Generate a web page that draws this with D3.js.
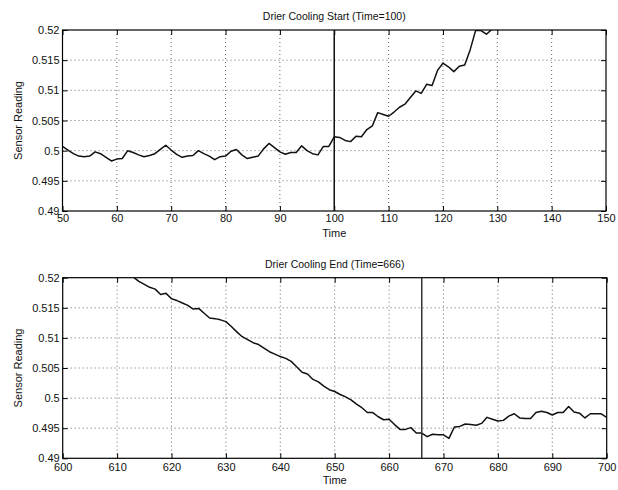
<!DOCTYPE html>
<html>
<head>
<meta charset="utf-8">
<script src="https://cdn.jsdelivr.net/npm/d3@7"></script>
<style>
  html, body { margin: 0; padding: 0; background: #fff; }
  svg { display: block; }
  text { font-family: "Liberation Sans", Arial, sans-serif; fill: #111; }
</style>
</head>
<body>
<svg id="chart" width="618" height="490"></svg>
<script>
// ---- data ----
const startTimes = d3.range(50, 131);
const startValues = [
  0.5007, 0.5001, 0.4995, 0.4991, 0.4990, 0.4991, 0.4998, 0.4995, 0.4989, 0.4983,
  0.4986, 0.4987, 0.5000, 0.4997, 0.4993, 0.4990, 0.4992, 0.4995, 0.5002, 0.5009,
  0.5001, 0.4994, 0.4989, 0.4991, 0.4992, 0.5000, 0.4995, 0.4991, 0.4985, 0.4990,
  0.4991, 0.4999, 0.5002, 0.4993, 0.4987, 0.4989, 0.4991, 0.5003, 0.5012, 0.5005,
  0.4998, 0.4994, 0.4997, 0.4997, 0.5008, 0.5000, 0.4995, 0.4993, 0.5007, 0.5007,
  0.5023, 0.5022, 0.5017, 0.5015, 0.5024, 0.5023, 0.5035, 0.5041, 0.5063, 0.5060,
  0.5057, 0.5064, 0.5072, 0.5077, 0.5088, 0.5099, 0.5095, 0.5110, 0.5108, 0.5133,
  0.5145, 0.5139, 0.5131, 0.5140, 0.5142, 0.5167, 0.5199, 0.5199, 0.5193, 0.5201,
  0.5215
];
const endTimes = d3.range(610, 701);
const endValues = [
  0.5222, 0.5215, 0.5208, 0.5201, 0.5194, 0.5189, 0.5184, 0.5181, 0.5172, 0.5174,
  0.5165, 0.5162, 0.5158, 0.5154, 0.5148, 0.5149, 0.5141, 0.5133, 0.5132, 0.5130,
  0.5127, 0.5119, 0.5110, 0.5102, 0.5097, 0.5092, 0.5089, 0.5083, 0.5077, 0.5073,
  0.5069, 0.5066, 0.5061, 0.5052, 0.5043, 0.5040, 0.5031, 0.5027, 0.5020, 0.5014,
  0.5011, 0.5006, 0.5002, 0.4997, 0.4990, 0.4984, 0.4976, 0.4976, 0.4969, 0.4964,
  0.4965, 0.4956, 0.4948, 0.4948, 0.4951, 0.4942, 0.4942, 0.4936, 0.4940, 0.4939,
  0.4939, 0.4933, 0.4952, 0.4953, 0.4957, 0.4956, 0.4955, 0.4958, 0.4968, 0.4965,
  0.4962, 0.4963, 0.4970, 0.4974, 0.4967, 0.4966, 0.4966, 0.4976, 0.4978, 0.4976,
  0.4972, 0.4976, 0.4976, 0.4986, 0.4977, 0.4975, 0.4967, 0.4974, 0.4974, 0.4974,
  0.4968
];
const yTicks = [0.49, 0.495, 0.5, 0.505, 0.51, 0.515, 0.52];
const yTickLabels = ["0.49", "0.495", "0.5", "0.505", "0.51", "0.515", "0.52"];
const startXTicks = [50, 60, 70, 80, 90, 100, 110, 120, 130, 140, 150];
const endXTicks = [600, 610, 620, 630, 640, 650, 660, 670, 680, 690, 700];
const panels = [
  { title: "Drier Cooling Start (Time=100)", times: startTimes, values: startValues,
    xDomain: [50, 150], xTicks: startXTicks, marker: 100,
    box: { left: 62.5, right: 606, top: 30, bottom: 211 } },
  { title: "Drier Cooling End (Time=666)", times: endTimes, values: endValues,
    xDomain: [600, 700], xTicks: endXTicks, marker: 666,
    box: { left: 62.7, right: 606.7, top: 277.7, bottom: 458.3 } }
];

const svg = d3.select("#chart");
const defs = svg.append("defs");

panels.forEach((p, i) => {
  const b = p.box;
  const x = d3.scaleLinear().domain(p.xDomain).range([b.left, b.right]);
  const y = d3.scaleLinear().domain([0.49, 0.52]).range([b.bottom, b.top]);
  const g = svg.append("g");
  const w = b.right - b.left, h = b.bottom - b.top;

  defs.append("clipPath").attr("id", "clip" + i)
    .append("rect").attr("x", b.left).attr("y", b.top).attr("width", w).attr("height", h);

  // grid
  const grid = g.append("g").attr("stroke", "#444").attr("stroke-width", 0.8)
    .attr("stroke-dasharray", "1,3");
  p.xTicks.slice(1, -1).forEach(t => {
    grid.append("line").attr("x1", x(t)).attr("x2", x(t)).attr("y1", b.top).attr("y2", b.bottom);
  });
  yTicks.slice(1, -1).forEach(t => {
    grid.append("line").attr("x1", b.left).attr("x2", b.right).attr("y1", y(t)).attr("y2", y(t));
  });

  // axes with inward ticks
  const fmtX = d => String(d);
  const fmtY = d => yTickLabels[yTicks.indexOf(d)];
  const axB = g.append("g").attr("transform", `translate(0,${b.bottom})`)
    .call(d3.axisBottom(x).tickValues(p.xTicks).tickFormat(fmtX).tickSizeInner(-5).tickSizeOuter(0).tickPadding(i === 0 ? 3 : 5));
  const axT = g.append("g").attr("transform", `translate(0,${b.top})`)
    .call(d3.axisTop(x).tickValues(p.xTicks).tickFormat("").tickSizeInner(-5).tickSizeOuter(0));
  const axL = g.append("g").attr("transform", `translate(${b.left},0)`)
    .call(d3.axisLeft(y).tickValues(yTicks).tickFormat(fmtY).tickSizeInner(-5).tickSizeOuter(0).tickPadding(3));
  const axR = g.append("g").attr("transform", `translate(${b.right},0)`)
    .call(d3.axisRight(y).tickValues(yTicks).tickFormat("").tickSizeInner(-5).tickSizeOuter(0));
  [axB, axT, axL, axR].forEach(a => {
    a.select(".domain").remove();
    a.selectAll("line").attr("stroke", "#000").attr("stroke-width", 1);
    a.selectAll("text").attr("font-size", 11).attr("fill", "#111")
      .attr("font-family", "'Liberation Sans', Arial, sans-serif");
  });

  // frame
  g.append("rect").attr("x", b.left).attr("y", b.top).attr("width", w).attr("height", h)
    .attr("fill", "none").attr("stroke", "#000").attr("stroke-width", 1.2);

  // data line
  const data = p.times.map((t, k) => [t, p.values[k]]);
  g.append("path").datum(data).attr("clip-path", `url(#clip${i})`)
    .attr("fill", "none").attr("stroke", "#111").attr("stroke-width", 1.5)
    .attr("stroke-linejoin", "round")
    .attr("d", d3.line().x(d => x(d[0])).y(d => y(d[1])));

  // marker line
  g.append("line").attr("x1", x(p.marker)).attr("x2", x(p.marker))
    .attr("y1", b.top).attr("y2", b.bottom)
    .attr("stroke", i === 0 ? "#111" : "#333").attr("stroke-width", 1.5);

  // titles and labels
  g.append("text").attr("x", (b.left + b.right) / 2).attr("y", b.top - 10)
    .attr("text-anchor", "middle").attr("font-size", 10.5).text(p.title);
  g.append("text").attr("x", (b.left + b.right) / 2).attr("y", b.bottom + 26)
    .attr("text-anchor", "middle").attr("font-size", 11).text("Time");
  g.append("text")
    .attr("transform", `translate(22,${(b.top + b.bottom) / 2}) rotate(-90)`)
    .attr("text-anchor", "middle").attr("font-size", 11).text("Sensor Reading");
});
</script>
</body>
</html>
